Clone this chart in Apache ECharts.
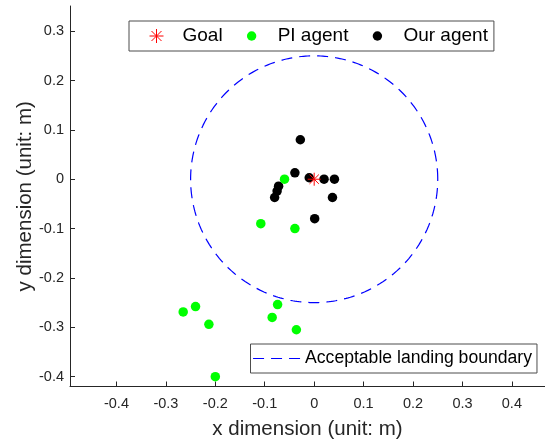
<!DOCTYPE html>
<html>
<head>
<meta charset="utf-8">
<script src="https://cdn.jsdelivr.net/npm/echarts@6/dist/echarts.min.js"></script>
<style>
html,body{margin:0;padding:0;background:#fff;}
#chart{width:545px;height:440px;}
</style>
</head>
<body>
<div id="chart"></div>
<script>
// ---- data ----
const goalX = [0];
const goalY = [0];
const piX = [-0.060, -0.108, -0.039, -0.265, -0.240, -0.213, -0.074, -0.085, -0.036, -0.200];
const piY = [0.000, -0.090, -0.100, -0.269, -0.258, -0.294, -0.254, -0.280, -0.305, -0.400];
const ourX = [-0.028, -0.039, -0.010, 0.020, 0.041, -0.072, -0.075, -0.080, 0.037, 0.001];
const ourY = [0.080, 0.013, 0.003, 0.000, 0.000, -0.014, -0.024, -0.037, -0.037, -0.080];
const boundaryRadius = 0.25;
const xTicks = [-0.4, -0.3, -0.2, -0.1, 0, 0.1, 0.2, 0.3, 0.4];
const yTicks = [-0.4, -0.3, -0.2, -0.1, 0, 0.1, 0.2, 0.3];
const seriesNames = ['Goal', 'PI agent', 'Our agent', 'Acceptable landing boundary'];

const zip = (xs, ys) => xs.map((x, i) => [x, ys[i]]);
const circlePts = [];
for (let k = 0; k <= 360; k++) {
  const a = k * Math.PI / 180;
  circlePts.push([boundaryRadius * Math.cos(a), boundaryRadius * Math.sin(a)]);
}

const FONT = '"Liberation Sans", Arial, Helvetica, sans-serif';
const TXT = '#262626';
const DASH = [11, 7];
const starPath = 'path://M7 0 L7 14 M0 7 L14 7 M2 2 L12 12 M2 12 L12 2';
const dotIcon = 'path://M0 0 M14 14 M11.7 7 A4.7 4.7 0 1 1 2.3 7 A4.7 4.7 0 1 1 11.7 7 Z';
const lineIcon = 'path://M0 0 M47 14 M0 7 L47 7';

const chart = echarts.init(document.getElementById('chart'));
chart.setOption({
  backgroundColor: '#fff',
  animation: false,
  textStyle: { fontFamily: FONT, color: TXT },
  grid: { left: 70, right: 0, top: 6, bottom: 53.5, containLabel: false, outerBoundsMode: 'none' },
  xAxis: {
    type: 'value', min: -0.494, max: 0.467,
    name: 'x dimension (unit: m)', nameLocation: 'middle', nameGap: 32, nameMoveOverlap: false,
    nameTextStyle: { fontSize: 20.5, color: TXT, fontFamily: FONT },
    axisLine: { show: true, onZero: false, lineStyle: { color: '#262626', width: 1 } },
    axisTick: { show: true, inside: true, length: 5, customValues: xTicks, lineStyle: { color: '#262626' } },
    axisLabel: { customValues: xTicks, fontSize: 14.5, color: TXT, margin: 10, fontFamily: FONT },
    splitLine: { show: false }
  },
  yAxis: {
    type: 'value', min: -0.42, max: 0.351,
    name: 'y dimension (unit: m)', nameLocation: 'middle', nameGap: 34, nameMoveOverlap: false,
    nameTextStyle: { fontSize: 20.5, color: TXT, fontFamily: FONT },
    axisLine: { show: true, onZero: false, lineStyle: { color: '#262626', width: 1 } },
    axisTick: { show: true, inside: true, length: 5, customValues: yTicks, lineStyle: { color: '#262626' } },
    axisLabel: { customValues: yTicks, fontSize: 14.5, color: TXT, margin: 6, fontFamily: FONT },
    splitLine: { show: false }
  },
  legend: [
    {
      left: 129, top: 21, orient: 'horizontal',
      padding: [5.5, 6, 5.5, 20],
      itemWidth: 14, itemHeight: 14, itemGap: 22,
      backgroundColor: '#fff', borderColor: '#4d4d4d', borderWidth: 1, borderRadius: 0,
      textStyle: { fontSize: 19, color: '#000', fontFamily: FONT, padding: [0, 0, 0, 14] },
      selectedMode: false,
      data: [
        { name: seriesNames[0], icon: starPath, itemStyle: { color: 'rgba(0,0,0,0)', borderColor: '#ff0000', borderWidth: 1 } },
        { name: seriesNames[1], icon: dotIcon, itemStyle: { color: '#00ff00', borderWidth: 0 } },
        { name: seriesNames[2], icon: dotIcon, itemStyle: { color: '#000000', borderWidth: 0 } }
      ]
    },
    {
      left: 250.5, top: 344, orient: 'horizontal',
      padding: [5.5, 5, 5.5, 2],
      itemWidth: 47, itemHeight: 14,
      backgroundColor: '#fff', borderColor: '#4d4d4d', borderWidth: 1, borderRadius: 0,
      textStyle: { fontSize: 17.6, color: '#000', fontFamily: FONT },
      selectedMode: false,
      data: [
        { name: seriesNames[3], icon: lineIcon, itemStyle: { color: 'rgba(0,0,0,0)', borderColor: '#0000ff', borderWidth: 1.1, borderType: DASH } }
      ]
    }
  ],
  series: [
    {
      name: seriesNames[3], type: 'line', data: circlePts, symbol: 'none', showSymbol: false,
      smooth: false, z: 1,
      lineStyle: { color: '#0000ff', width: 1.2, type: DASH },
      itemStyle: { color: '#0000ff' }
    },
    {
      name: seriesNames[2], type: 'scatter', data: zip(ourX, ourY), symbol: 'circle', symbolSize: 9.5, z: 3,
      itemStyle: { color: '#000000', opacity: 1 }
    },
    {
      name: seriesNames[1], type: 'scatter', data: zip(piX, piY), symbol: 'circle', symbolSize: 9.5, z: 3,
      itemStyle: { color: '#00ff00', opacity: 1 }
    },
    {
      name: seriesNames[0], type: 'scatter', data: zip(goalX, goalY), symbol: starPath, symbolSize: 13, z: 4,
      itemStyle: { color: 'rgba(0,0,0,0)', borderColor: '#ff0000', borderWidth: 1, opacity: 1 }
    }
  ]
});
</script>
</body>
</html>
